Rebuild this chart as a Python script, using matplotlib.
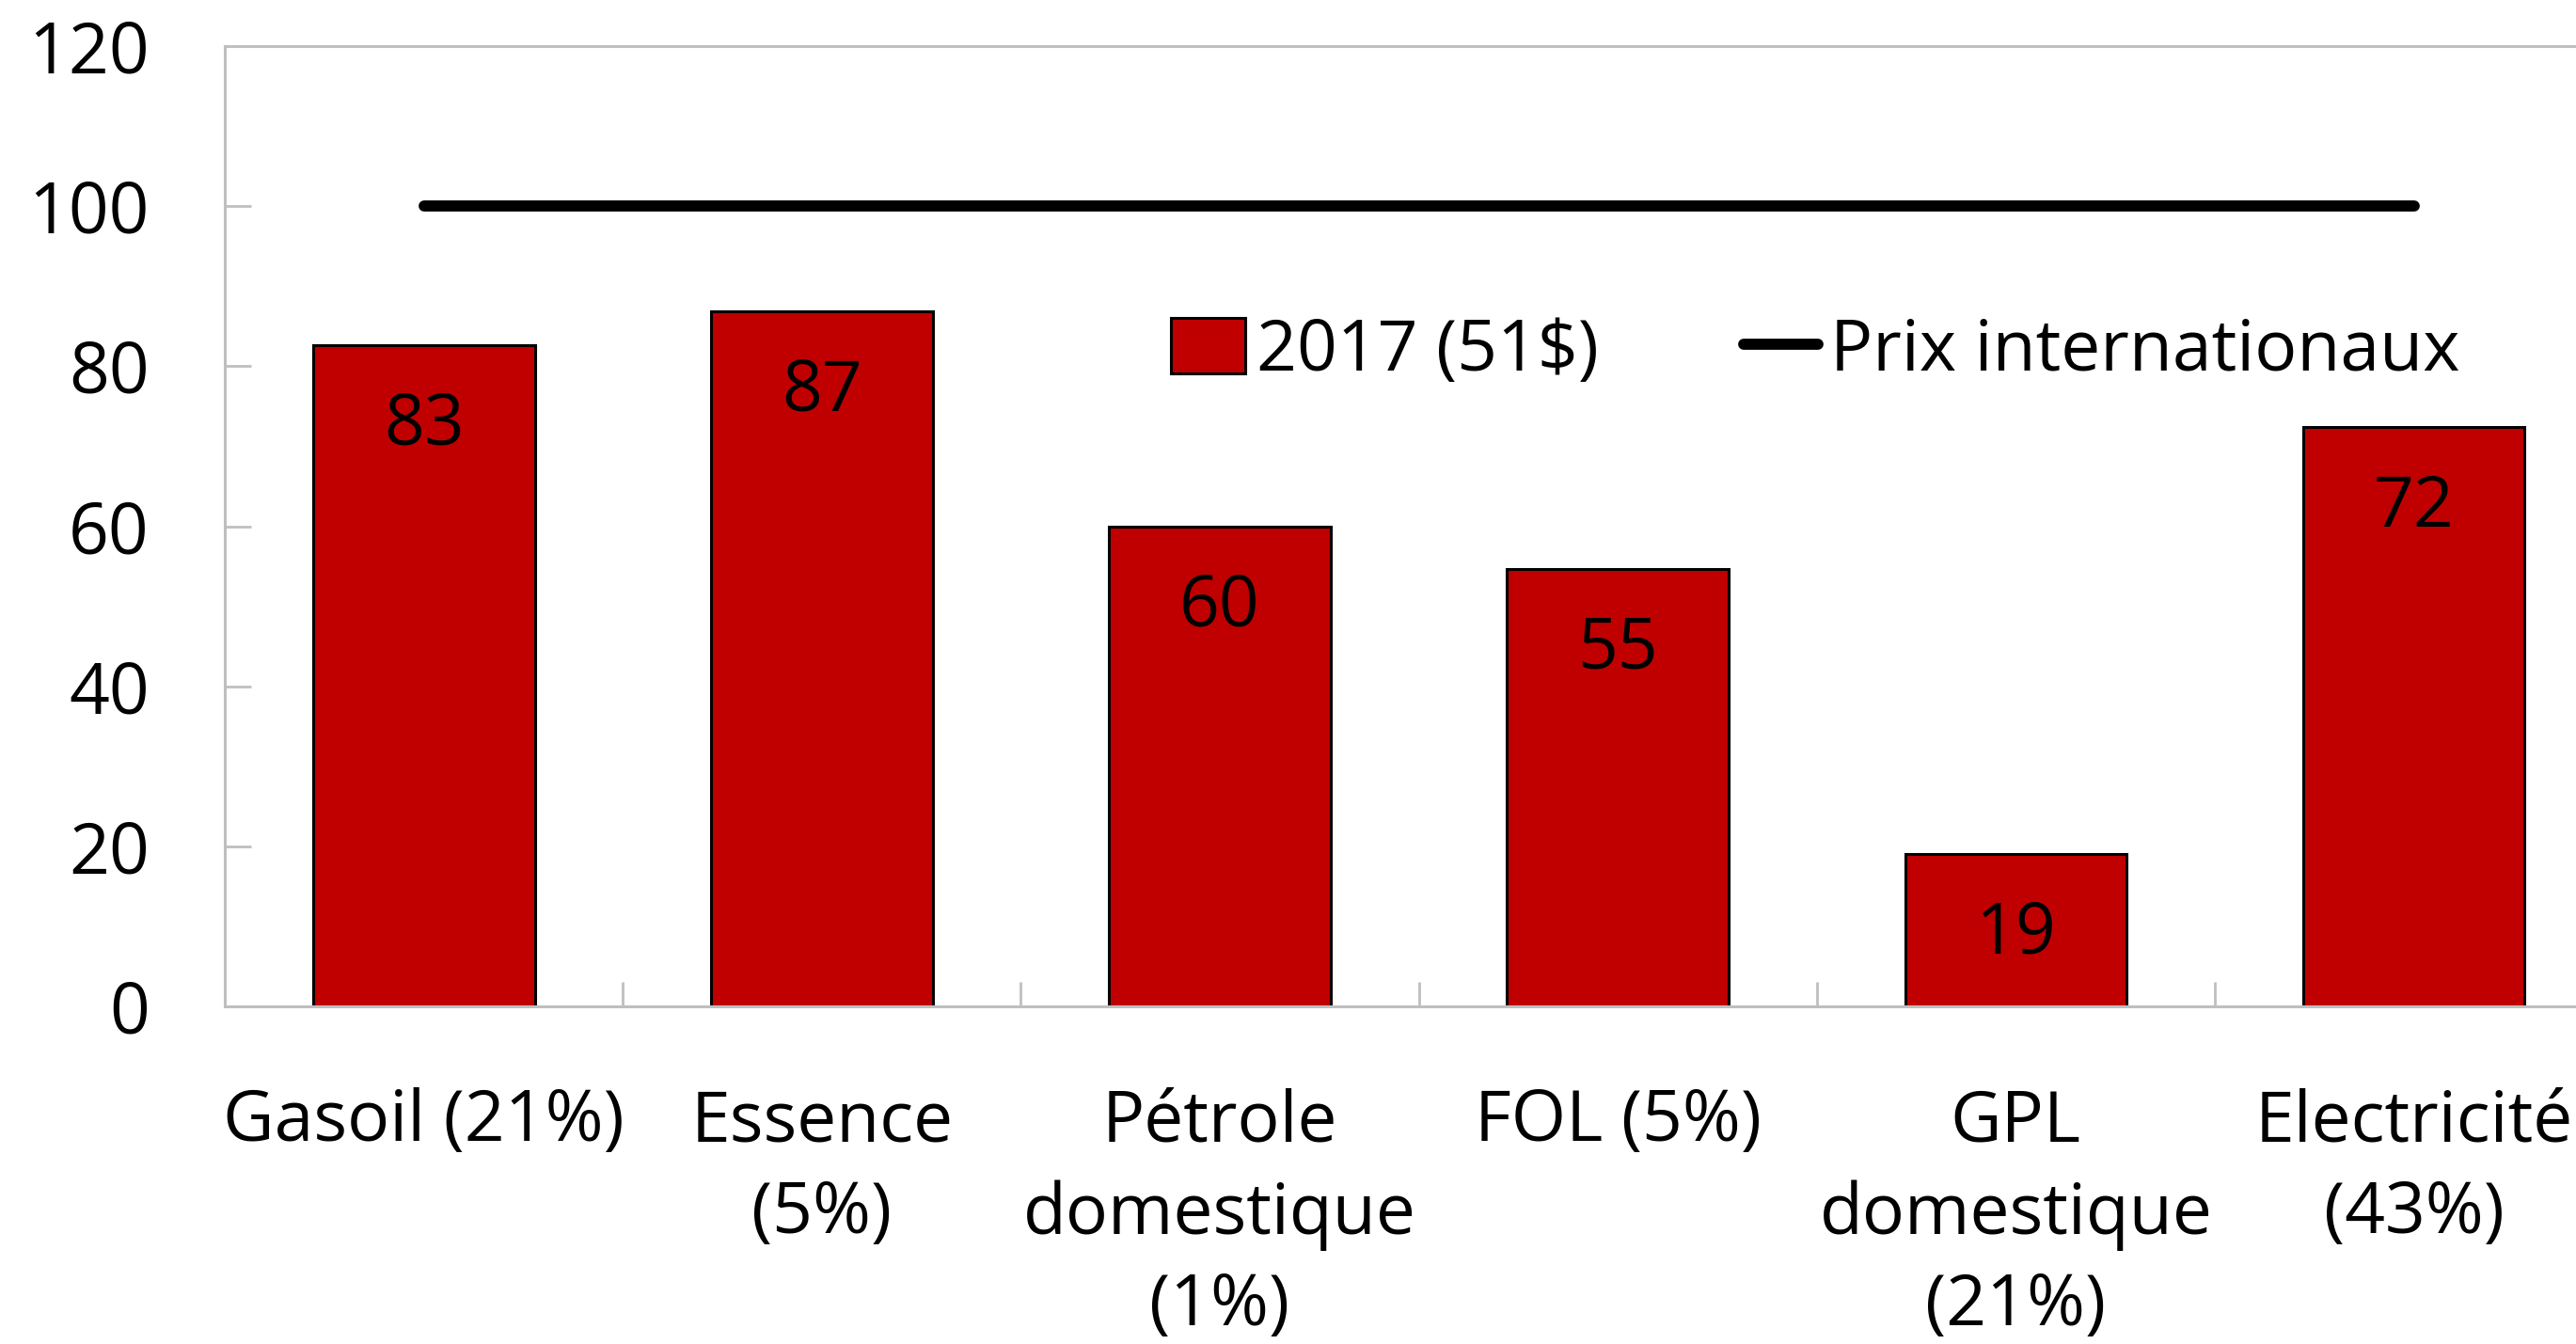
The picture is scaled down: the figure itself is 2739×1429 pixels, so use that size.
import matplotlib
matplotlib.use("Agg")
import matplotlib.pyplot as plt
import numpy as np

categories = ["Gasoil (21%)", "Essence\n(5%)", "Pétrole\ndomestique\n(1%)",
              "FOL (5%)", "GPL\ndomestique\n(21%)", "Electricité\n(43%)"]
values_2017 = [82.6, 86.9, 60.0, 54.7, 19.1, 72.4]
prix_intl = [100, 100, 100, 100, 100, 100]
y_ticks = [0, 20, 40, 60, 80, 100, 120]

plt.rcParams['font.family'] = ['Open Sans', 'DejaVu Sans']
fs = 54
grey = '#BFBFBF'

fig = plt.figure(figsize=(27.39, 14.29), dpi=100)
ax = fig.add_axes([0.0873, 0.2512, 0.927, 0.7145])

x = np.arange(len(categories))
bars = ax.bar(x, values_2017, width=0.557, color='#C00000', edgecolor='black',
              linewidth=2.2, label='2017 (51$)', zorder=2)
line, = ax.plot(x, prix_intl, color='black', linewidth=8.5, solid_capstyle='round',
                label='Prix internationaux', zorder=3)

for xi, v in zip(x, values_2017):
    ax.annotate(f"{v:.0f}", (xi, v), xytext=(0, -62), textcoords='offset points',
                ha='center', va='center', fontsize=fs, color='black', zorder=4)

ax.set_xlim(-0.5, len(categories) - 0.5)
ax.set_ylim(0, 120)
ax.set_yticks(y_ticks)
ax.set_xticks(x)
ax.set_xticklabels(categories)
ax.set_xticks(x[:-1] + 0.5, minor=True)
plt.setp(ax.get_xticklabels(), linespacing=1.4)

ax.tick_params(axis='x', which='major', length=0, pad=62, labelsize=fs)
ax.tick_params(axis='x', which='minor', direction='in', length=19, width=2, color=grey)
ax.tick_params(axis='y', direction='in', length=20, width=2, color=grey, pad=58, labelsize=fs)

for s in ax.spines.values():
    s.set_color(grey)
    s.set_linewidth(2.2)

ax.legend([bars, line], ['2017 (51$)', 'Prix internationaux'],
          loc='center left', bbox_to_anchor=(1245 / 2739, 1 - 374 / 1429),
          bbox_transform=fig.transFigure, ncol=2, frameon=False, fontsize=fs,
          handlelength=1.05, handleheight=0.85, handletextpad=0.17,
          columnspacing=2.05, borderpad=0, borderaxespad=0)

fig.savefig("out.png", dpi=100)
